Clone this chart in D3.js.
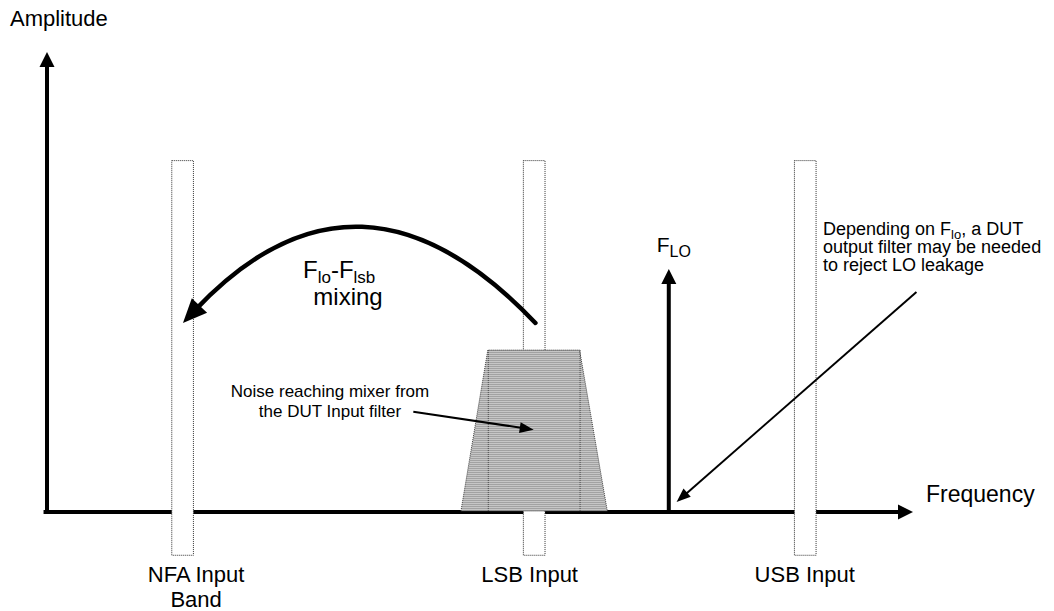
<!DOCTYPE html>
<html>
<head>
<meta charset="utf-8">
<script src="https://cdn.jsdelivr.net/npm/d3@7"></script>
<style>
  body { margin: 0; background: #fff; }
  text { font-family: "Liberation Sans", Arial, sans-serif; fill: #000; }
</style>
</head>
<body>
<svg id="chart"></svg>
<script>
"use strict"

// frequency / amplitude in arbitrary units (0..100 along each axis)
let bandNames = ["NFA Input Band", "LSB Input", "USB Input"]
let bandLabels = [["NFA Input", "Band"], ["LSB Input"], ["USB Input"]]
let bandCenters = [15.6, 56.2, 87.5]
let bandWidth = 2.5
let bandTop = 76.5
let bandBottom = -9.3

let loFreq = 71.8
let loAmp = 52.8

// noise skirt coming through the DUT input filter
let noiseBottom = [47.8, 64.7]
let noiseTop = [50.9, 61.5]
let noiseAmp = 35.2

// mixing arc: start, control, end  [freq, amp]
let arcPoints = [[56.4, 41.1], [36.0, 81.5], [15.7, 41.1]]

let axisLabels = ["Amplitude", "Frequency"]
let noiseText = ["Noise reaching mixer from", "the DUT Input filter"]
let leakText = ["output filter may be needed", "to reject LO leakage"]

let width = 1054, height = 611

let svg = d3.select("#chart")
  .attr("width", width)
  .attr("height", height)

let x = d3.scaleLinear().domain([0, 100]).range([47, 913])
let y = d3.scaleLinear().domain([0, 100]).range([512, 52])

let defs = svg.append("defs")
let pat = defs.append("pattern")
  .attr("id", "noise")
  .attr("width", 2).attr("height", 2)
  .attr("patternUnits", "userSpaceOnUse")
pat.append("rect").attr("width", 2).attr("height", 2).attr("fill", "#c6c6c6")
pat.append("rect").attr("width", 2).attr("height", 1).attr("fill", "#a2a2a2")

/* arrow head as a triangle, tip at 'tip', coming from 'from' */
function head(tip, from, len, hw) {
  let dx = tip[0] - from[0], dy = tip[1] - from[1]
  let L = Math.hypot(dx, dy)
  let ux = dx / L, uy = dy / L
  let b = [tip[0] - ux * len, tip[1] - uy * len]
  return [tip, [b[0] - uy * hw, b[1] + ux * hw], [b[0] + uy * hw, b[1] - ux * hw]]
}
let line = d3.line()

/* axes */
let axes = svg.append("g")
axes.append("line")
  .attr("x1", x(-0.4)).attr("x2", x(98.5))
  .attr("y1", y(0)).attr("y2", y(0))
  .attr("stroke", "#000").attr("stroke-width", 4)
axes.append("path")
  .attr("d", line(head([x(100), y(0)], [x(0), y(0)], 15, 7.5)) + "Z")
axes.append("line")
  .attr("x1", x(0)).attr("x2", x(0))
  .attr("y1", y(-0.4)).attr("y2", y(97))
  .attr("stroke", "#000").attr("stroke-width", 4)
axes.append("path")
  .attr("d", line(head([x(0), y(100)], [x(0), y(0)], 15, 7.5)) + "Z")

svg.append("text")
  .attr("x", 10).attr("y", 26)
  .attr("font-size", 22)
  .text(axisLabels[0])
svg.append("text")
  .attr("x", x(100) + 13).attr("y", y(0) - 10)
  .attr("font-size", 23)
  .text(axisLabels[1])

/* input bands */
svg.append("g").selectAll("rect")
  .data(bandCenters)
  .join("rect")
  .attr("x", d => x(d - bandWidth / 2) + 0.5)
  .attr("y", y(bandTop) + 0.5)
  .attr("width", x(bandWidth) - x(0))
  .attr("height", y(bandBottom) - y(bandTop))
  .attr("fill", "#fff")
  .attr("stroke", "#333")
  .attr("stroke-width", 1)
  .attr("stroke-dasharray", "1,1")

let labelShift = [14, -4, 0]
bandLabels.forEach((lines, i) => {
  let t = svg.append("text")
    .attr("text-anchor", "middle")
    .attr("font-size", 22)
  lines.forEach((s, j) => {
    t.append("tspan")
      .attr("x", x(bandCenters[i]) + labelShift[i])
      .attr("y", 582 + j * 25)
      .text(s)
  })
})

/* noise trapezoid */
let trap = [
  [x(noiseBottom[0]), y(0) - 1],
  [x(noiseTop[0]), y(noiseAmp)],
  [x(noiseTop[1]), y(noiseAmp)],
  [x(noiseBottom[1]), y(0) - 1]
]
svg.append("path")
  .attr("d", line(trap) + "Z")
  .attr("fill", "url(#noise)")
  .attr("stroke", "#444")
  .attr("stroke-dasharray", "1,1")
svg.append("g").selectAll("line")
  .data(noiseTop)
  .join("line")
  .attr("x1", d => x(d) + 0.5).attr("x2", d => x(d) + 0.5)
  .attr("y1", y(noiseAmp)).attr("y2", y(0) - 1)
  .attr("stroke", "#444")
  .attr("stroke-dasharray", "1,1")

/* LO line */
svg.append("line")
  .attr("x1", x(loFreq)).attr("x2", x(loFreq))
  .attr("y1", y(0)).attr("y2", y(loAmp) + 12)
  .attr("stroke", "#000").attr("stroke-width", 4)
svg.append("path")
  .attr("d", line(head([x(loFreq), y(loAmp)], [x(loFreq), y(0)], 15, 7.5)) + "Z")

let flo = svg.append("text")
  .attr("x", x(loFreq) - 12).attr("y", y(loAmp) - 17)
  .attr("font-size", 21)
flo.append("tspan").text("F")
flo.append("tspan").attr("dy", 5).attr("font-size", 16).text("LO")

/* mixing arc */
let p = arcPoints.map(d => [x(d[0]), y(d[1])])
let arcHead = head(p[2], p[1], 24, 10.5)
let base = [(arcHead[1][0] + arcHead[2][0]) / 2, (arcHead[1][1] + arcHead[2][1]) / 2]
let endIn = [base[0] + (p[2][0] - base[0]) * 0.25, base[1] + (p[2][1] - base[1]) * 0.25]
let arc = d3.path()
arc.moveTo(p[0][0], p[0][1])
arc.quadraticCurveTo(p[1][0], p[1][1], endIn[0], endIn[1])
svg.append("path")
  .attr("d", arc.toString())
  .attr("fill", "none")
  .attr("stroke", "#000")
  .attr("stroke-width", 4.5)
  .attr("stroke-linecap", "round")
svg.append("path").attr("d", line(arcHead) + "Z")

let mix = svg.append("text")
  .attr("x", 303).attr("y", 278)
  .attr("font-size", 24)
mix.append("tspan").text("F")
mix.append("tspan").attr("dy", 5).attr("font-size", 17).text("lo")
mix.append("tspan").attr("dy", -5).text("-F")
mix.append("tspan").attr("dy", 5).attr("font-size", 17).text("lsb")
svg.append("text")
  .attr("x", 348).attr("y", 305)
  .attr("text-anchor", "middle")
  .attr("font-size", 24)
  .text("mixing")

/* noise callout */
let nt = svg.append("text")
  .attr("text-anchor", "middle")
  .attr("font-size", 17)
noiseText.forEach((s, j) => {
  nt.append("tspan").attr("x", 330).attr("y", 397 + j * 20).text(s)
})
let nTip = [x(56.2), y(17.9)]
let nFrom = [x(42.3), y(21.8)]
svg.append("line")
  .attr("x1", nFrom[0]).attr("y1", nFrom[1])
  .attr("x2", nTip[0] - 8).attr("y2", nTip[1] - 1.2)
  .attr("stroke", "#000").attr("stroke-width", 2)
svg.append("path").attr("d", line(head(nTip, nFrom, 14, 5.5)) + "Z")

/* LO leakage callout */
let lt = svg.append("text")
  .attr("font-size", 18)
let l1 = lt.append("tspan").attr("x", 823).attr("y", 235)
l1.append("tspan").text("Depending on F")
l1.append("tspan").attr("dy", 4).attr("font-size", 13).text("lo")
l1.append("tspan").attr("dy", -4).text(", a DUT")
leakText.forEach((s, j) => {
  lt.append("tspan").attr("x", 823).attr("y", 253 + j * 18).text(s)
})
let aTip = [x(72.7), y(2.2)]
let aFrom = [x(100.4), y(47.8)]
svg.append("line")
  .attr("x1", aFrom[0]).attr("y1", aFrom[1])
  .attr("x2", aTip[0] + 7).attr("y2", aTip[1] - 6)
  .attr("stroke", "#000").attr("stroke-width", 2)
svg.append("path").attr("d", line(head(aTip, aFrom, 14, 5.5)) + "Z")
</script>
</body>
</html>
